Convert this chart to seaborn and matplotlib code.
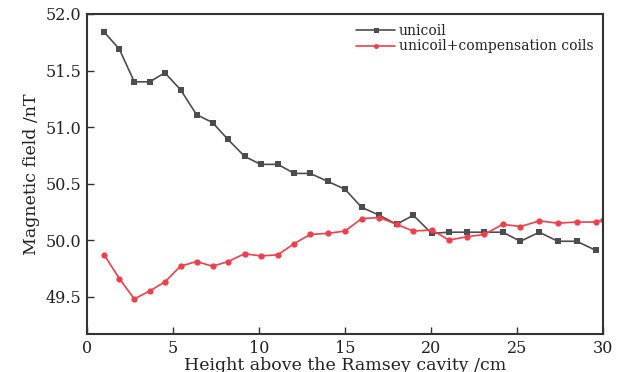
import numpy as np
import pandas as pd
import matplotlib
matplotlib.use("Agg")
import matplotlib.pyplot as plt
import seaborn as sns

heights = [1.0, 1.88, 2.75, 3.64, 4.53, 5.44, 6.37, 7.3, 8.2, 9.17, 10.1, 11.1,
           12.05, 12.98, 13.99, 15.0, 15.97, 17.0, 18.0, 18.97, 20.04, 21.05,
           22.08, 23.1, 24.17, 25.2, 26.3, 27.37, 28.47, 29.58]
unicoil = [51.84, 51.69, 51.40, 51.40, 51.48, 51.33, 51.11, 51.04, 50.89, 50.74,
           50.67, 50.67, 50.59, 50.59, 50.52, 50.45, 50.29, 50.22, 50.14, 50.22,
           50.06, 50.07, 50.07, 50.07, 50.07, 49.99, 50.07, 49.99, 49.99, 49.91]
heights_comp = heights + [30.0]
compensated = [49.87, 49.66, 49.48, 49.55, 49.63, 49.77, 49.81, 49.77, 49.81, 49.88,
               49.86, 49.87, 49.97, 50.05, 50.06, 50.08, 50.19, 50.20, 50.14, 50.08,
               50.09, 50.00, 50.03, 50.05, 50.14, 50.12, 50.17, 50.15, 50.16, 50.16,
               50.18]
xticks = [0, 5, 10, 15, 20, 25, 30]
yticks = [49.5, 50.0, 50.5, 51.0, 51.5, 52.0]

sns.set_theme(style="ticks")
plt.rcParams['font.family'] = ['DejaVu Serif', 'Liberation Serif']
plt.rcParams['xtick.direction'] = 'in'
plt.rcParams['ytick.direction'] = 'in'

df1 = pd.DataFrame({"h": heights, "B": unicoil})
df2 = pd.DataFrame({"h": heights_comp, "B": compensated})

fig = plt.figure(figsize=(6.24, 3.72), dpi=100)
ax = fig.add_axes([0.1394, 0.1022, 0.8269, 0.8602])

sns.lineplot(data=df1, x="h", y="B", ax=ax, color="#4d4d4d", marker="s",
             markersize=4.5, markeredgewidth=0, linewidth=1.2, label="unicoil")
sns.lineplot(data=df2, x="h", y="B", ax=ax, color="#ef3f4a", marker="o",
             markersize=4.5, markeredgewidth=0, linewidth=1.2,
             label="unicoil+compensation coils")

ax.set_xlim(0, 30)
ax.set_ylim(49.17, 52.0)
ax.set_xticks(xticks)
ax.set_xticklabels([str(t) for t in xticks])
ax.set_yticks(yticks)
ax.set_yticklabels([f"{t:.1f}" for t in yticks])
ax.tick_params(axis='both', labelsize=11.5, length=5, width=1.0, color="#333333",
               labelcolor="#222222", pad=4)
ax.set_xlabel("Height above the Ramsey cavity /cm", fontsize=12.5, color="#222222",
              labelpad=0)
ax.set_ylabel("Magnetic field /nT", fontsize=12.5, color="#222222", labelpad=4)
for s in ax.spines.values():
    s.set_linewidth(1.5)
    s.set_color("#333333")
    s.set_visible(True)

leg = ax.legend(loc="upper right", frameon=False, fontsize=10, handlelength=2.8,
                handletextpad=0.25, borderaxespad=0.3, labelspacing=0.12,
                markerscale=0.8)
for t in leg.get_texts():
    t.set_color("#222222")

fig.savefig("out.png", dpi=100)
